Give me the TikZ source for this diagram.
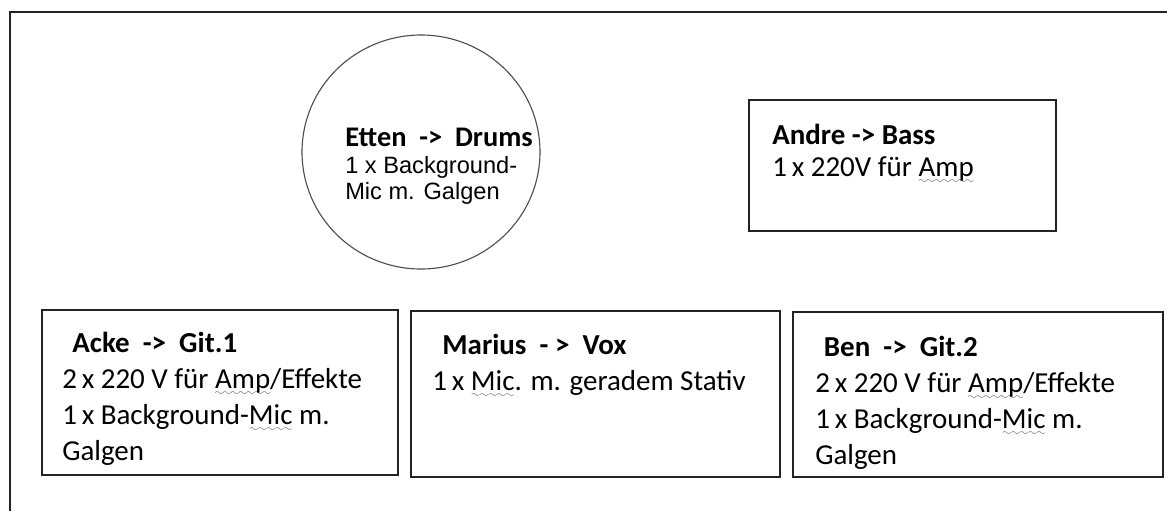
\documentclass[tikz,border=0pt]{standalone}
\usepackage{fontspec}
\setmainfont{Carlito}
\newfontfamily\arialfont{Liberation Sans}
\usetikzlibrary{shapes.geometric,calc}
\definecolor{inkg}{RGB}{35,35,35}
\definecolor{waveg}{RGB}{70,70,70}

\font\wavefont=lasy7
\newcommand\spellwave[1]{\setbox0\hbox{#1}%
  \rlap{\raisebox{-5pt}{\hbox to \wd0{\color{waveg}\xleaders\hbox{\wavefont\char58}\hfil}}}#1}

\begin{document}
\begin{tikzpicture}[
  pbox/.style={draw=inkg, line width=1pt, inner sep=0pt},
  drum/.style={draw=inkg!80, line width=0.8pt, ellipse, inner sep=0pt,
               minimum width=5.95cm, minimum height=5.85cm},
  txt/.style={anchor=north west, inner sep=0pt, align=left,
              font=\fontsize{20.6}{25.6}\selectfont},
  dtxt/.style={anchor=north west, inner sep=0pt, align=left,
               font=\fontsize{16.8}{18.8}\selectfont},
]
\useasboundingbox (0,0) rectangle (29.175,-12.775);

% ---------- stage frame ----------
\draw[inkg, line width=1pt] (0.25,-12.775) -- (0.25,-0.3) -- (29.175,-0.3);

% ---------- back row: drums + bass ----------
\node[drum] (etten) at (10.525,-3.8) {};
\node[dtxt] (ettenT) at (8.625,-3.2)
  {{\fontsize{20.2}{18.8}\selectfont\bfseries Etten\ \ ->\ \ Drums}\\
   \arialfont 1 x Background-\\
   \arialfont Mic m. Galgen};

\node[pbox, minimum width=7.675cm, minimum height=3.275cm] (andre) at (22.5625,-4.1375) {};
\node[txt, font=\fontsize{20.6}{23}\selectfont] (andreT) at (19.3,-3.1)
  {\textbf{Andre -> Bass}\\
   1\,x 220V für \spellwave{Amp}};

% ---------- front row: guitars + vox ----------
\node[pbox, minimum width=8.9cm, minimum height=4.125cm] (acke) at (5.5,-9.8125) {};
\node[txt] (ackeT) at (1.55,-8.3)
  {\hspace{0.35em}\textbf{Acke\ \ ->\ \ Git.1}\\
   2\,x 220 V für \spellwave{Amp}/Effekte\\
   1\,x Background-\spellwave{Mic} m.\\
   Galgen};

\node[pbox, minimum width=9.225cm, minimum height=4.15cm] (marius) at (14.8875,-9.85) {};
\node[txt] (mariusT) at (10.8,-8.35)
  {\hspace{0.35em}\textbf{Marius\ \ - >\ \ Vox}\\
   1\,x \spellwave{Mic}. m. geradem Stativ};

\node[pbox, minimum width=9.25cm, minimum height=4.125cm] (ben) at (24.45,-9.8625) {};
\node[txt] (benT) at (20.375,-8.4)
  {\hspace{0.3em}\textbf{Ben\ \ ->\ \ Git.2}\\
   2\,x 220 V für \spellwave{Amp}/Effekte\\
   1\,x Background-\spellwave{Mic} m.\\
   Galgen};

\end{tikzpicture}
\end{document}
